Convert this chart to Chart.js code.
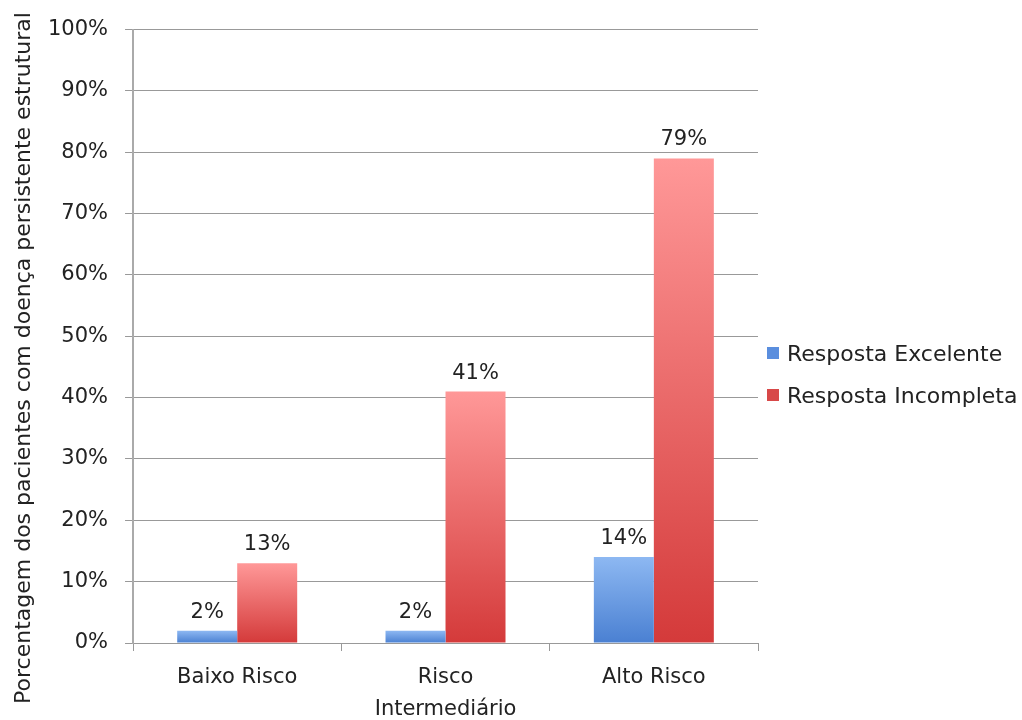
<!DOCTYPE html>
<html>
<head>
<meta charset="utf-8">
<script src="https://cdn.jsdelivr.net/npm/chart.js@4/dist/chart.umd.min.js"></script>
<style>
  html, body { margin: 0; padding: 0; background: #fff; }
  #wrap { position: relative; width: 1022px; height: 720px; }
  #legend { position: absolute; left: 767px; top: 338px; font-family: "DejaVu Sans", sans-serif; font-size: 22px; color: #222; }
  #legend div { display: flex; align-items: center; height: 30px; margin-bottom: 12px; }
  #legend span.box { width: 12px; height: 12px; margin-right: 8px; }
</style>
</head>
<body>
<div id="wrap">
  <canvas id="chart" width="1022" height="720"></canvas>
  <div id="legend"></div>
</div>
<script>
const categories = ["Baixo Risco", ["Risco", "Intermediário"], "Alto Risco"];
const seriesNames = ["Resposta Excelente", "Resposta Incompleta"];
const excelente = [2, 2, 14];
const incompleta = [13, 41, 79];
const yTicks = [0, 10, 20, 30, 40, 50, 60, 70, 80, 90, 100];
const yTitle = "Porcentagem dos pacientes com doença persistente estrutural";

const FONT = "'DejaVu Sans', sans-serif";
const blueStops = ["#8db8f2", "#4a80d2"];
const redStops = ["#ff9898", "#d43a3a"];
const swatch = ["#5a8ede", "#d84848"];

// vertical gradient from bar top down to the zero line
function barGradient(stops) {
  return (ctx) => {
    const chart = ctx.chart;
    const { y } = chart.scales;
    if (!y || ctx.type !== "data") return stops[1];
    const top = y.getPixelForValue(ctx.raw);
    const base = y.getPixelForValue(0);
    if (!isFinite(top) || top === base) return stops[1];
    const g = chart.ctx.createLinearGradient(0, top, 0, base);
    g.addColorStop(0, stops[0]);
    g.addColorStop(1, stops[1]);
    return g;
  };
}

// value labels above each bar
const valueLabels = {
  id: "valueLabels",
  afterDatasetsDraw(chart) {
    const ctx = chart.ctx;
    ctx.save();
    ctx.font = "21px " + FONT;
    ctx.fillStyle = "#222";
    ctx.textAlign = "center";
    ctx.textBaseline = "alphabetic";
    chart.data.datasets.forEach((ds, i) => {
      chart.getDatasetMeta(i).data.forEach((bar, j) => {
        ctx.fillText(ds.data[j] + "%", bar.x, bar.y - 13);
      });
    });
    ctx.restore();
  }
};

// rotated y-axis title, centred on the canvas height rather than the plot
const sideTitle = {
  id: "sideTitle",
  afterDraw(chart) {
    const ctx = chart.ctx;
    ctx.save();
    ctx.translate(24, 358);
    ctx.rotate(-Math.PI / 2);
    ctx.font = "22px " + FONT;
    ctx.fillStyle = "#222";
    ctx.textAlign = "center";
    ctx.textBaseline = "middle";
    ctx.fillText(yTitle, 0, 0);
    ctx.restore();
  }
};

new Chart(document.getElementById("chart"), {
  type: "bar",
  data: {
    labels: categories,
    datasets: [
      { label: seriesNames[0], data: excelente, backgroundColor: barGradient(blueStops) },
      { label: seriesNames[1], data: incompleta, backgroundColor: barGradient(redStops) },
    ],
  },
  options: {
    responsive: false,
    animation: false,
    devicePixelRatio: 1,
    layout: { padding: { top: 23, right: 264, left: 31, bottom: -16 } },
    datasets: { bar: { categoryPercentage: 0.576, barPercentage: 1.0 } },
    plugins: { legend: { display: false }, tooltip: { enabled: false } },
    scales: {
      x: {
        grid: { offset: true, drawOnChartArea: false, drawTicks: true, tickLength: 8, color: "#999" },
        border: { display: false },
        ticks: { color: "#222", font: { family: FONT, size: 21, lineHeight: 1.5 }, padding: 11, maxRotation: 0 },
      },
      y: {
        min: 0,
        max: 100,
        afterBuildTicks: (axis) => { axis.ticks = yTicks.map((v) => ({ value: v })); },
        grid: { color: "#999", lineWidth: 1, tickLength: 8 },
        border: { display: true, color: "#aaa", width: 2 },
        ticks: { color: "#222", font: { family: FONT, size: 21 }, padding: 17, callback: (v) => v + "%" },
      },
    },
  },
  plugins: [valueLabels, sideTitle],
});

const legend = document.getElementById("legend");
seriesNames.forEach((name, i) => {
  const row = document.createElement("div");
  const box = document.createElement("span");
  box.className = "box";
  box.style.background = swatch[i];
  row.appendChild(box);
  row.appendChild(document.createTextNode(name));
  legend.appendChild(row);
});
</script>
</body>
</html>
